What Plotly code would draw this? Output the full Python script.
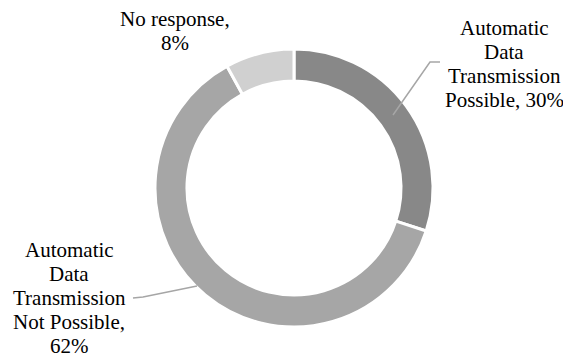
import plotly.graph_objects as go

OFF = 8  # page body margin offset compensation (pixels)
W, H = 571 - OFF, 359 - OFF

categories = ["Automatic Data Transmission Possible", "Automatic Data Transmission Not Possible", "No response"]
values = [30, 62, 8]
colors = ["#888888", "#a6a6a6", "#d0d0d0"]
label_lines = [
    ["Automatic", "Data", "Transmission", "Possible, 30%"],
    ["Automatic", "Data", "Transmission", "Not Possible,", "62%"],
    ["No response,", "8%"],
]
# first-line center positions (pixels in reference) and line pitch
label_pos = [(504, 28), (69, 250), (175, 19)]
LINE_PITCH = 24

cx, cy, r = 294 - OFF, 188 - OFF, 139

fig = go.Figure(go.Pie(
    labels=categories, values=values, sort=False, direction="clockwise", rotation=0,
    hole=0.77, textinfo="none", hoverinfo="label+percent",
    marker=dict(colors=colors, line=dict(color="white", width=3)),
    domain=dict(x=[(cx - r) / W, (cx + r) / W], y=[(H - cy - r) / H, (H - cy + r) / H]),
    showlegend=False,
))

for lines, (px, py) in zip(label_lines, label_pos):
    for i, txt in enumerate(lines):
        x = px - OFF
        y = py - OFF + i * LINE_PITCH
        fig.add_annotation(x=x / W, y=1 - y / H, xref="paper", yref="paper", text=txt,
                           showarrow=False, xanchor="center", yanchor="middle",
                           font=dict(family="Liberation Serif", size=21, color="#000000"))

def p(x, y):
    return f"{(x - OFF) / W} {1 - (y - OFF) / H}"

leaders = [
    [(393, 115), (430, 62), (440, 62)],
    [(197, 286), (143, 297), (133, 298)],
]
for pts in leaders:
    path = "M " + " L ".join(p(x, y) for x, y in pts)
    fig.add_shape(type="path", path=path, xref="paper", yref="paper",
                  line=dict(color="#a6a6a6", width=1.5))

fig.update_layout(width=W, height=H, margin=dict(l=0, r=0, t=0, b=0),
                  paper_bgcolor="white", plot_bgcolor="white")
fig.write_html("out.html")
